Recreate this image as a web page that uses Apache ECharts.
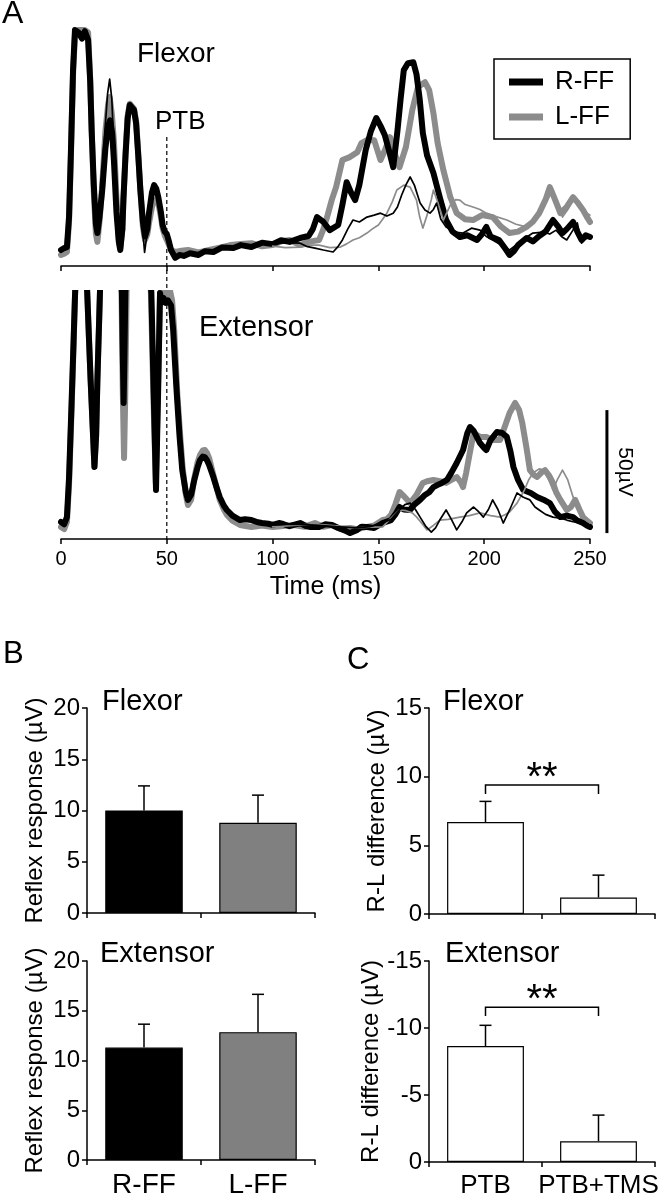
<!DOCTYPE html>
<html><head><meta charset="utf-8">
<script src="https://cdn.jsdelivr.net/npm/echarts@6/dist/echarts.min.js"></script>
<style>html,body{margin:0;padding:0;background:#fff}#c{width:663px;height:1199px}</style>
</head><body><div id="c"></div>
<script>
// ---------- DATA ----------
var timeTicks = [0, 50, 100, 150, 200, 250];
var ptbTime = 50;
var scaleBar = { time: 258, from: 2.4, to: 52.4, label: '50µV' };

var flexRFF = [[0,6.5],[1.5,7.3],[2.8,7.7],[3.8,20],[4.7,47],[5.7,80],[6.6,96],[8.3,95],[9.9,92.5],[11.3,95.5],[12.8,92],[13.8,75],[14.5,55],[15.5,33],[16.5,17],[17.2,13.4],[18.2,20],[19.5,31],[21,48],[22.3,57],[23.2,59.3],[24.2,54],[25,43],[26.2,22],[27.3,10],[28,6.5],[29,15],[29.5,27],[30.5,45],[31.5,60],[32.5,65.5],[33.4,66.3],[34.5,63.5],[35.5,58],[36.5,45],[37.5,31],[38.7,18],[39.7,12],[40.8,15],[41.5,21],[43,30],[44,32.9],[45,31.5],[46,28],[47.2,22],[48,16.7],[49,14],[50,13],[51,10],[52,6.5],[54,3.3],[56,4.5],[58,4.1],[61,5.2],[65,4.5],[68,6],[72,5.7],[76,7.5],[81.5,7.3],[85,8.5],[90,7.7],[95,9.5],[100,8.9],[104,10.5],[108,9.8],[113,11.4],[117,12.2],[119,15],[121,19.9],[124,17.9],[127,14.6],[131,16.7],[133,25],[135,34.1],[137,30],[139,26.8],[141,33],[144,47.2],[146.5,55],[149,60.2],[151,57],[153,53.3],[155,47],[157,40.2],[159,55],[160.5,68],[162,79.7],[164,82.5],[166.5,82.9],[168,78],[169.5,68],[171,54.1],[173,45],[176,37.8],[179,28],[182,18.7],[185,14],[188.5,11.8],[192,12.5],[196.6,10.6],[199,13],[201,15.9],[203,12],[207,10.6],[210,7],[212,4.5],[214,6],[216,8.5],[220,11.4],[223,10],[226,12.2],[229,14],[232.5,18.7],[235,16],[237,13.4],[239,15],[242,17.9],[244,14],[246,10.6],[248,12.5],[250,11.8]];
var flexLFF = [[0,4.5],[1.5,5],[2.8,5.7],[3.8,18],[4.7,45],[5.7,78],[6.6,94],[8.3,96],[10,96],[11.3,96],[12.8,95],[13.8,76],[14.5,55],[15.5,30],[16.5,13],[17.2,9.8],[18.2,18],[19.5,33],[21,55],[22.3,66],[23,68.7],[24,62],[25,51],[26.2,28],[27.3,11],[28,7],[29,15],[29.5,27],[30.5,46],[31.5,61],[32.5,66],[33.4,66.3],[34.5,64],[35.5,59],[36.5,46],[37.5,31],[38.7,16],[39.7,10.6],[40.8,13],[41.5,17],[43,24],[44,26.8],[45,26.5],[46,25.6],[47.2,20],[48,15.4],[49,12.5],[50,10.6],[52,6.5],[54,5.7],[57,6.2],[60,6.5],[65,5.5],[70,6.5],[75,7.5],[80,8.5],[85,9],[90,9.3],[95,8],[100,8.5],[104,10],[108,10.6],[113,8.5],[117,9.8],[122,10.6],[124,15],[126,20.7],[128,27],[130,32.1],[133,43.1],[136.5,44.3],[140,46.3],[142,50],[144.6,51.2],[148,51.2],[151,43.1],[153,47],[155.5,52.4],[158,45],[160,40.2],[163,48.4],[166,63.4],[168.7,72.8],[172,74.8],[174,71.5],[176,62.2],[178,50],[180.7,39],[184,28],[187,21.5],[191,19],[194.7,18.7],[199,20.7],[204,19.9],[208,16],[212,13.4],[216,14],[220,15.9],[223,18],[226,21.5],[229,27],[231,32.1],[233,28],[236,21.5],[239,24],[242,28],[244,26],[246.7,22.8],[248.5,20],[250,17.9]];
var flexRThin = [[16.5,17],[17.5,13.8],[19,30],[20.5,52],[22,70],[23,76],[24,68],[25,48],[26.5,20],[28,7],['-','-'],[38.5,16],[39.5,5.5],[40.5,12],['-','-'],[100,8.9],[106,9.5],[113,9.3],[116,8],[120,7.3],[124,6.5],[128.6,5.7],[131,8],[133,10.6],[135.5,15],[138,18.7],[141,17.9],[144.6,19.9],[148,20.7],[151,21.5],[154,20.3],[157,21.5],[159,24],[161,28.9],[163,33],[165,36.2],[167,32.9],[169.7,25.6],[172,22.8],[174.4,21.5],[176,23],[177.5,25.6],[179.5,19],[182,15.9],[186,13.8],[190,13.4],[194,15.4],[198,14.6],[201,12],[204,10.6],[208,8.5],[212,6.5],[215,8.5],[218,10.6],[223,13.4],[228,13.8],[231,13],[234,14.6],[236.5,12],[239,10.6],[241.5,14],[244,17.5],[246,9.3],[248,11],[250,11.8]];
var flexLThin = [[100,8.1],[106,7.5],[113,7.7],[118,8.5],[122,8.5],[127,7.5],[132,7.7],[135,9],[138,10.6],[141,11.5],[144.6,13.4],[147,15],[150,16.7],[152,19],[154,21.5],[156.5,26],[158.7,30.9],[162,32.9],[165,32.1],[168,26.8],[169.5,20],[171,15.4],[173,20.7],[175,27],[176,30.9],[178,26],[180.7,18.7],[182.5,22],[184,24.8],[186.5,27],[188.5,26.8],[191,25],[194.7,24],[198,23],[201,21.5],[206,20],[210.7,18.7],[215,17],[220,15.9],[224,19],[227,22.8],[230,27],[232.5,30.9],[235,25],[237,19.9],[239.5,23],[242,28],[245,24],[248.6,21.5],[250,20.7]];

var extRFF = [[0,6.9],[1.5,6],[2.8,8.9],[3.8,25],[5,55.3],[6,82],[6.6,98.4],[7.5,118],[9,140],[11,130],[12.4,100],[13.2,82],[14,64.6],[15,45],[15.8,29.3],[16.6,42],[17.2,64.6],[18,88],[18.4,100],[20,140],[26,140],[28.8,100],[29.2,75],[29.6,55.3],[30,75],[30.4,100],[32,140],[40,140],[42.7,100],[43.8,60],[44.9,19.9],[45.9,60],[46.8,100],[47.5,96],[48.5,98],[49.5,96],[50.5,97],[52,95],[53,85],[54.5,62],[56,42],[57.3,28],[59,19],[60,15.9],[61.5,18],[63,24],[64.5,29],[65.7,32.1],[67,33.5],[68,33.3],[69,32],[70,30.1],[72,25.2],[73.5,21],[75,17.1],[77,13.5],[78.4,11.8],[81,9.5],[84.6,7.7],[87,8],[90,7.7],[93,6.8],[95,6.5],[98,6.2],[100,5.7],[103,6.5],[105,6.1],[108,5.2],[110,5.7],[113,6.5],[116,5.2],[118,4.9],[122,4.9],[125,6],[128,5.7],[131,4.5],[134,3.5],[136.6,2.4],[140,3.7],[142,5],[144.6,4.9],[148,4.5],[150,5.5],[152,6.5],[156,7.7],[158,10],[160,13],[162,12],[165,11.8],[167,14],[169.7,15.9],[172,17.9],[174,19],[176,21.1],[178,22],[180,22.8],[182.4,24],[184.5,27],[187,30.9],[190,36.2],[192,43],[193.3,45.5],[195,44],[196,42.3],[198,39],[200,37],[201,36.2],[203,40.2],[206,43.5],[208.5,43.1],[210.7,41.5],[212.3,36],[213.8,29.3],[216,24],[218.5,19.9],[222,18.7],[225,17.1],[228,16],[231,14.6],[233.5,11],[236,8.9],[239,9.5],[242,8.9],[244,7.5],[246.7,6.5],[248.5,5.5],[250,4.9]];
var extLFF = [[0,4.9],[1.5,4],[2.8,6.9],[3.8,22],[5,52.4],[6,80],[6.6,98.4],[7.5,118],[9,140],[11,130],[12.4,100],[13.2,82],[14,64.6],[15,45],[15.8,29.3],[16.6,42],[17.2,64.6],[18,88],[18.4,100],[20,140],[26,140],[28.6,100],[29.2,60],[29.8,32.9],[30.4,60],[31,100],[32,140],[40,140],[42.5,100],[43.6,60],[44.8,22.8],[45.8,60],[46.8,100],[47.5,101],[48.5,101],[50,99.2],[51.5,101],[52.5,97],[53.5,85],[55,58.5],[56.5,40],[57.5,28.9],[59,18],[60,13.8],[61.5,16],[63,24.8],[64.5,31],[65.7,34.1],[67,36],[68,36.2],[69,35],[70,32.9],[72,26],[73.5,21],[75,15.9],[77,12],[78.4,9.8],[81,7.5],[84.6,5.7],[90,4.9],[95,5.5],[100,4.9],[105,5.3],[110,5.7],[115,5],[120,6.5],[124,5],[128,5.7],[132,4.2],[136.6,4.5],[140,4],[144.6,4.9],[148,5.5],[152,7.7],[154,8],[156,9.8],[158,14],[160,19.1],[162.5,17],[165,14.6],[168,17.9],[171,22.8],[173,23.5],[176,24],[179,23.5],[182,22.8],[184.5,24],[187,25.2],[189,23],[190,21.1],[191.5,27],[193,34.1],[195,43.1],[198,41.5],[201,41.5],[204,40.2],[207.5,40.2],[210,46.3],[212,51.2],[214.6,55.3],[216.5,52.4],[218,47.2],[220,37],[221.6,28],[223.5,26],[225,25.2],[227,27],[228.7,28],[230.5,26],[232.5,22.8],[234,19],[236,15.9],[239,11.8],[241,13],[243,15.9],[245,12],[246.7,8.9],[248.5,7.5],[250,6.5]];
var extRThin = [[100,5.7],[110,6],[120,5.7],[130,5],[140,4.5],[146,5],[152,6.5],[156,8],[160,11.8],[162.5,14],[165,14.6],[167.5,12],[169.7,8.9],[172.5,5],[175,2.8],[177,4.5],[179,7.7],[182,11.8],[184.5,8],[187,3.7],[189.5,7],[191.7,10.6],[195,13],[197.5,11],[199.6,8.9],[202,12],[204,15.9],[206.5,12],[209,6.5],[212,11.8],[215.5,18.7],[218.5,17],[221.6,15.9],[224,13],[226,11.8],[229,10],[232.5,8.9],[236,8.5],[239,7.7],[242,7],[245,6.5],[248,5.5],[250,4.9]];
var extLThin = [[100,4.9],[110,5.5],[120,6.1],[130,5.3],[140,4.5],[146,4.8],[152,4.9],[156,8.5],[160,11.8],[163,11.5],[166,10.6],[168,9],[170,6.9],[173,3.7],[176,5.5],[179,7.7],[183,8],[188.5,8.9],[193,9.5],[198,10.6],[203,9.5],[207.5,8.9],[210,10],[212,11],[215.5,14.6],[219,19.9],[221,24],[223,26.8],[226,28.5],[228,28],[230.5,24],[232.5,19.9],[234.5,24],[237,28],[239.5,24],[242,17.1],[244.5,12],[246.7,8.9],[248.5,7.5],[250,6.5]];

var groupsB = ['R-FF', 'L-FF'];
var flexB = [10.0, 8.8];
var flexBErr = [2.4, 2.7];
var extB = [11.3, 12.85];
var extBErr = [2.35, 3.8];

var groupsC = ['PTB', 'PTB+TMS'];
var flexC = [6.7, 1.2];
var flexCErr = [1.5, 1.63];
var extC = [-8.65, -1.55];
var extCErr = [1.55, 1.95];
var flexSig = [9.4, 0.66];
var extSig = [-11.55, 0.66];
var sigLabel = '**';

// ---------- STYLE ----------
var FF = 'Liberation Sans, Arial, sans-serif';
var GRAYTR = '#8c8c8c', GRAYBAR = '#808080';
var THICK = 6, THIN = 1.7;
var chart = echarts.init(document.getElementById('c'), null, {renderer: 'canvas'});

function axisBase(extra) {
  var o = {
    axisLine: {show: true, lineStyle: {color: '#000', width: 1.5}},
    axisTick: {show: true, length: 5, lineStyle: {color: '#000', width: 1.5}},
    axisLabel: {color: '#000', fontFamily: FF, fontSize: 24},
    splitLine: {show: false}
  };
  for (var k in extra) o[k] = extra[k];
  return o;
}
function trace(name, data, grid, color, width) {
  return {type: 'line', name: name, data: data, xAxisIndex: grid, yAxisIndex: grid,
    showSymbol: false, symbol: 'none', color: color, silent: true, animation: false,
    itemStyle: {color: color},
    lineStyle: {color: color, width: width, join: 'round', cap: 'round'}, z: 3};
}
function errRender(params, api) {
  var x = api.value(0), v = api.value(1), e = api.value(2);
  var s = v < 0 ? -1 : 1;
  var p0 = api.coord([x, v]), p1 = api.coord([x, v + s * e]);
  var st = {stroke: '#000', lineWidth: 1.5};
  return {type: 'group', children: [
    {type: 'line', shape: {x1: p0[0], y1: p0[1], x2: p1[0], y2: p1[1]}, style: st},
    {type: 'line', shape: {x1: p1[0] - 6, y1: p1[1], x2: p1[0] + 6, y2: p1[1]}, style: st}
  ]};
}
function sigRender(params, api) {
  var h = api.value(1), leg = api.value(2);
  var lv = h - Math.sign(h) * leg;
  var a = api.coord([0, h]), b = api.coord([1, h]);
  var a2 = api.coord([0, lv]), b2 = api.coord([1, lv]);
  var st = {stroke: '#000', lineWidth: 1.5, fill: null};
  return {type: 'group', children: [
    {type: 'polyline', shape: {points: [a2, a, b, b2]}, style: st},
    {type: 'text', x: (a[0] + b[0]) / 2, y: a[1] - 6,
      style: {text: sigLabel, fill: '#000', font: '40px ' + FF, align: 'center', verticalAlign: 'middle'}}
  ]};
}
function scaleRender(params, api) {
  var p0 = api.coord([api.value(0), api.value(1)]);
  var p1 = api.coord([api.value(0), api.value(2)]);
  return {type: 'line', shape: {x1: p0[0], y1: p0[1], x2: p1[0], y2: p1[1]}, style: {stroke: '#000', lineWidth: 3}};
}
function errData(vals, errs) { return vals.map(function (v, i) { return [i, v, errs[i]]; }); }
function barSeries(vals, grid, colors) {
  return {type: 'bar', xAxisIndex: grid, yAxisIndex: grid, barWidth: '68%', animation: false, silent: true,
    data: vals.map(function (v, i) { return {value: v, itemStyle: {color: colors[i], borderColor: '#000', borderWidth: 1.2}}; })};
}
function yName(txt) {
  return {name: txt, nameLocation: 'middle', nameRotate: 90, nameGap: 40,
    nameTextStyle: {color: '#000', fontFamily: FF, fontSize: 24}};
}
function merge(a, b) { for (var k in b) a[k] = b[k]; return a; }

var option = {
  backgroundColor: '#fff',
  animation: false,
  grid: [
    {left: 61, width: 529, top: 30, height: 236},
    {left: 61, width: 529, top: 293, height: 246},
    {left: 87, width: 228, top: 708, height: 205},
    {left: 87, width: 228, top: 961, height: 206},
    {left: 429, width: 226, top: 708, height: 206},
    {left: 429, width: 226, top: 961, height: 206}
  ],
  xAxis: [
    axisBase({type: 'value', gridIndex: 0, min: 0, max: 250, interval: 50, axisLabel: {show: false}}),
    axisBase({type: 'value', gridIndex: 1, min: 0, max: 250, interval: 50,
      axisLabel: {color: '#000', fontFamily: FF, fontSize: 20, margin: 10},
      name: 'Time (ms)', nameLocation: 'middle', nameGap: 36,
      nameTextStyle: {color: '#000', fontFamily: FF, fontSize: 25}}),
    axisBase({type: 'category', gridIndex: 2, data: groupsB, axisLabel: {show: false}}),
    axisBase({type: 'category', gridIndex: 3, data: groupsB, axisLabel: {color: '#000', fontFamily: FF, fontSize: 28, margin: 11, interval: 0}}),
    axisBase({type: 'category', gridIndex: 4, data: groupsC, axisLabel: {show: false}}),
    axisBase({type: 'category', gridIndex: 5, data: groupsC, axisLabel: {color: '#000', fontFamily: FF, fontSize: 26, margin: 11, interval: 0, hideOverlap: false}})
  ],
  yAxis: [
    {type: 'value', gridIndex: 0, min: 0, max: 96, show: false},
    {type: 'value', gridIndex: 1, min: 0, max: 100, show: false},
    axisBase(merge({type: 'value', gridIndex: 2, min: 0, max: 20, interval: 5,
      axisLabel: {color: '#000', fontFamily: FF, fontSize: 24, margin: 7}}, yName('Reflex response (µV)'))),
    axisBase(merge({type: 'value', gridIndex: 3, min: 0, max: 20, interval: 5,
      axisLabel: {color: '#000', fontFamily: FF, fontSize: 24, margin: 7}}, yName('Reflex response (µV)'))),
    axisBase(merge({type: 'value', gridIndex: 4, min: 0, max: 15, interval: 5,
      axisLabel: {color: '#000', fontFamily: FF, fontSize: 24, margin: 7}}, yName('R-L difference (µV)'))),
    axisBase(merge({type: 'value', gridIndex: 5, min: -15, max: 0, interval: 5, inverse: true,
      axisLabel: {color: '#000', fontFamily: FF, fontSize: 24, margin: 7}}, yName('R-L difference (µV)')))
  ],
  legend: {
    data: ['R-FF', 'L-FF'], orient: 'vertical', left: 494, top: 59,
    backgroundColor: '#fff', borderColor: '#000', borderWidth: 1.5, borderRadius: 0,
    padding: [8, 16, 7, 15], itemWidth: 34, itemHeight: 7, itemGap: 5, icon: 'rect',
    selectedMode: false,
    textStyle: {color: '#000', fontFamily: FF, fontSize: 26, lineHeight: 30, padding: [0, 0, 0, 7]}
  },
  graphic: [
    {type: 'text', x: 2, y: 14, style: {text: 'A', font: '32px ' + FF, fill: '#000', align: 'left', verticalAlign: 'middle'}},
    {type: 'text', x: 3, y: 654, style: {text: 'B', font: '31px ' + FF, fill: '#000', align: 'left', verticalAlign: 'middle'}},
    {type: 'text', x: 347, y: 660, style: {text: 'C', font: '31px ' + FF, fill: '#000', align: 'left', verticalAlign: 'middle'}},
    {type: 'text', x: 137, y: 54, style: {text: 'Flexor', font: '28px ' + FF, fill: '#000', align: 'left', verticalAlign: 'middle'}},
    {type: 'text', x: 155, y: 122, style: {text: 'PTB', font: '26px ' + FF, fill: '#000', align: 'left', verticalAlign: 'middle'}},
    {type: 'text', x: 199, y: 328, style: {text: 'Extensor', font: '29px ' + FF, fill: '#000', align: 'left', verticalAlign: 'middle'}},
    {type: 'text', x: 102, y: 702, style: {text: 'Flexor', font: '29px ' + FF, fill: '#000', align: 'left', verticalAlign: 'middle'}},
    {type: 'text', x: 100, y: 954, style: {text: 'Extensor', font: '29px ' + FF, fill: '#000', align: 'left', verticalAlign: 'middle'}},
    {type: 'text', x: 443, y: 702, style: {text: 'Flexor', font: '29px ' + FF, fill: '#000', align: 'left', verticalAlign: 'middle'}},
    {type: 'text', x: 445, y: 954, style: {text: 'Extensor', font: '29px ' + FF, fill: '#000', align: 'left', verticalAlign: 'middle'}},
    {type: 'text', x: 625, y: 472, rotation: -Math.PI / 2, style: {text: scaleBar.label, font: '21px ' + FF, fill: '#000', align: 'center', verticalAlign: 'middle'}}
  ],
  series: [
    {type: 'line', xAxisIndex: 1, yAxisIndex: 1, data: [[ptbTime, 163.4], [ptbTime, 0]], clip: false,
      showSymbol: false, symbol: 'none', silent: true, z: 1,
      lineStyle: {color: '#000', width: 1.2, type: [4, 3]}},
    trace('L-FF', flexLFF, 0, GRAYTR, THICK),
    trace('R-FF', flexRFF, 0, '#000', THICK),
    trace('L-FF thin', flexLThin, 0, GRAYTR, THIN),
    trace('R-FF thin', flexRThin, 0, '#000', THIN),
    trace('L-FF', extLFF, 1, GRAYTR, THICK),
    trace('R-FF', extRFF, 1, '#000', THICK),
    trace('L-FF thin', extLThin, 1, GRAYTR, THIN),
    trace('R-FF thin', extRThin, 1, '#000', THIN),
    {type: 'custom', xAxisIndex: 1, yAxisIndex: 1, renderItem: scaleRender, clip: false, silent: true,
      data: [[scaleBar.time, scaleBar.from, scaleBar.to]]},
    barSeries(flexB, 2, ['#000', GRAYBAR]),
    {type: 'custom', xAxisIndex: 2, yAxisIndex: 2, renderItem: errRender, data: errData(flexB, flexBErr), z: 5, silent: true},
    barSeries(extB, 3, ['#000', GRAYBAR]),
    {type: 'custom', xAxisIndex: 3, yAxisIndex: 3, renderItem: errRender, data: errData(extB, extBErr), z: 5, silent: true},
    barSeries(flexC, 4, ['#fff', '#fff']),
    {type: 'custom', xAxisIndex: 4, yAxisIndex: 4, renderItem: errRender, data: errData(flexC, flexCErr), z: 5, silent: true},
    {type: 'custom', xAxisIndex: 4, yAxisIndex: 4, renderItem: sigRender, data: [[0, flexSig[0], flexSig[1]]], z: 5, silent: true, clip: false},
    barSeries(extC, 5, ['#fff', '#fff']),
    {type: 'custom', xAxisIndex: 5, yAxisIndex: 5, renderItem: errRender, data: errData(extC, extCErr), z: 5, silent: true},
    {type: 'custom', xAxisIndex: 5, yAxisIndex: 5, renderItem: sigRender, data: [[0, extSig[0], extSig[1]]], z: 5, silent: true, clip: false}
  ]
};
chart.setOption(option);
</script></body></html>
